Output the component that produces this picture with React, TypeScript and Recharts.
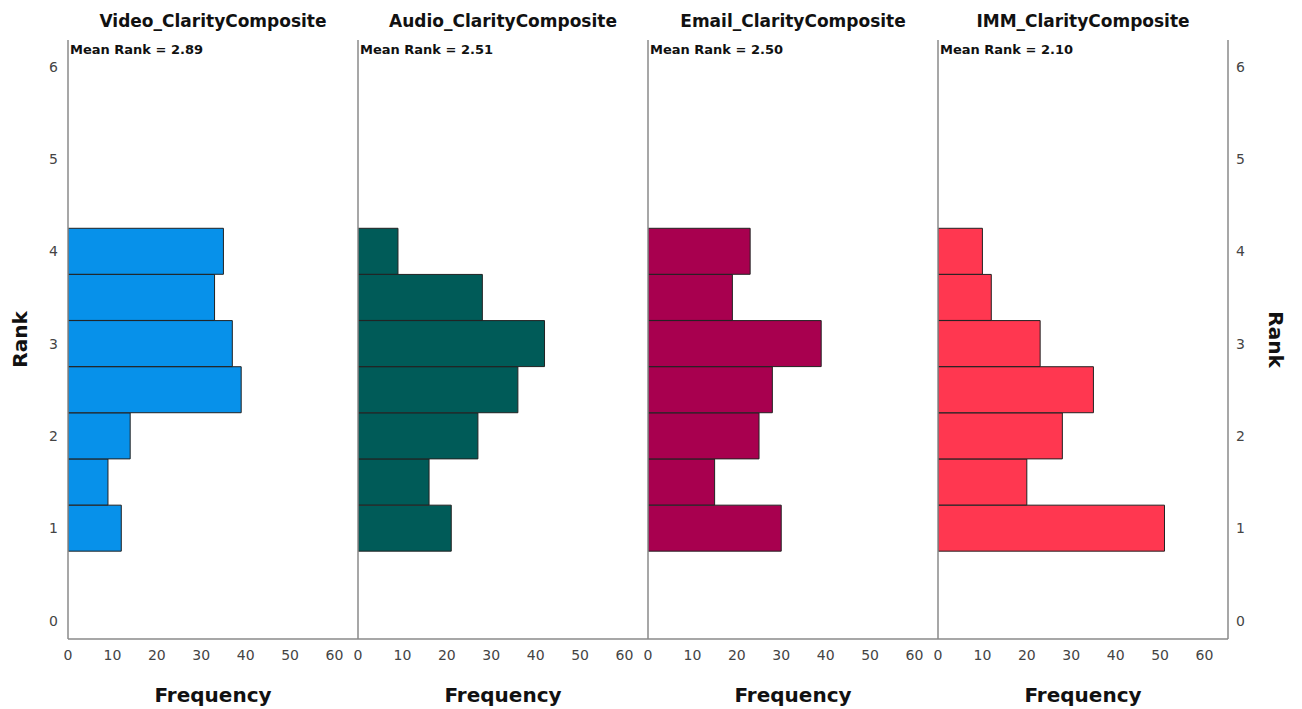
import React from "react";
import { BarChart, Bar, XAxis, YAxis, Label } from "recharts";

// rank bins (bin width 0.5) and frequency per composite
const ranks = [1, 1.5, 2, 2.5, 3, 3.5, 4];
const videoFreq = [12, 9, 14, 39, 37, 33, 35];
const audioFreq = [21, 16, 27, 36, 42, 28, 9];
const emailFreq = [30, 15, 25, 28, 39, 19, 23];
const immFreq = [51, 20, 28, 35, 23, 12, 10];

const titles = [
  "Video_ClarityComposite",
  "Audio_ClarityComposite",
  "Email_ClarityComposite",
  "IMM_ClarityComposite",
];
const meanRanks = ["2.89", "2.51", "2.50", "2.10"];
const colors = ["#0791ea", "#005b58", "#a8004f", "#ff3750"];
const freqTicks = [0, 10, 20, 30, 40, 50, 60];
const rankTicks = [0, 1, 2, 3, 4, 5, 6];

const FONT = "'DejaVu Sans', sans-serif";
const AXIS = "#8a8a8a";
const PANEL_W = 290;
const PLOT_LEFT = 68;
const PAD = 12;
const H = 709;

const tickStyle = { fontSize: 14, fill: "#444", fontFamily: FONT };

type PanelProps = {
  idx: number;
  values: number[];
};

const Panel = ({ idx, values }: PanelProps) => {
  const data = ranks.map((r, i) => ({ rank: r, freq: values[i] }));
  const first = idx === 0;
  const last = idx === 3;
  const leftW = first ? PLOT_LEFT : PAD;
  const rightW = last ? 73 : 0;
  const left = first ? 0 : PLOT_LEFT + PANEL_W * idx - PAD;
  return (
    <div style={{ position: "absolute", left, top: 0 }}>
      <BarChart
        width={leftW + PANEL_W + rightW}
        height={H}
        layout='vertical'
        data={data}
        barCategoryGap={0}
        margin={{ top: 40, right: 0, bottom: 0, left: 0 }}>
        <XAxis
          type='number'
          dataKey='freq'
          domain={[0, 65.3]}
          ticks={freqTicks}
          interval={0}
          allowDataOverflow
          height={70}
          tickLine={false}
          tickMargin={5}
          tick={tickStyle}
          stroke={AXIS}
          strokeWidth={1.5}>
          <Label
            value='Frequency'
            position='insideBottom'
            offset={7}
            style={{ fontSize: 20, fontWeight: 700, fill: "#111", fontFamily: FONT }}
          />
        </XAxis>
        <YAxis
          yAxisId='left'
          type='number'
          dataKey='rank'
          domain={[-0.2, 6.29]}
          ticks={rankTicks}
          interval={0}
          reversed
          allowDataOverflow
          width={leftW}
          tickLine={false}
          tickSize={8}
          tick={first ? tickStyle : false}
          stroke={AXIS}
          strokeWidth={1.5}>
          {first && (
            <Label
              value='Rank'
              angle={-90}
              position='insideLeft'
              offset={20}
              style={{ fontSize: 20, fontWeight: 700, fill: "#111", fontFamily: FONT, textAnchor: "middle" }}
            />
          )}
        </YAxis>
        {last && (
          <YAxis
            yAxisId='right'
            orientation='right'
            type='number'
            dataKey='rank'
            domain={[-0.2, 6.29]}
            ticks={rankTicks}
            interval={0}
            reversed
            allowDataOverflow
            width={rightW}
            tickLine={false}
            tickSize={6}
            tick={tickStyle}
            stroke={AXIS}
            strokeWidth={1.5}>
            <Label
              value='Rank'
              angle={90}
              position='insideRight'
              offset={25}
              style={{ fontSize: 20, fontWeight: 700, fill: "#111", fontFamily: FONT, textAnchor: "middle" }}
            />
          </YAxis>
        )}
        <Bar
          yAxisId='left'
          dataKey='freq'
          fill={colors[idx]}
          stroke='#222'
          strokeWidth={1}
          isAnimationActive={false}
        />
      </BarChart>
    </div>
  );
};

const App = () => {
  const series = [videoFreq, audioFreq, emailFreq, immFreq];
  return (
    <div style={{ position: "absolute", left: 0, top: 0, width: 1302, height: H, background: "#fff", fontFamily: FONT }}>
      {series.map((vals, i) => (
        <Panel key={titles[i]} idx={i} values={vals} />
      ))}
      {titles.map((t, i) => (
        <div
          key={t}
          style={{
            position: "absolute",
            left: PLOT_LEFT + PANEL_W * i,
            top: 13,
            width: PANEL_W,
            textAlign: "center",
            fontSize: 17,
            lineHeight: "17px",
            fontWeight: 700,
            color: "#111",
          }}>
          {t}
        </div>
      ))}
      {meanRanks.map((m, i) => (
        <div
          key={i}
          style={{
            position: "absolute",
            left: PLOT_LEFT + PANEL_W * i + 2,
            top: 43,
            fontSize: 13,
            lineHeight: "13px",
            fontWeight: 700,
            color: "#111",
            whiteSpace: "nowrap",
          }}>
          Mean Rank = {m}
        </div>
      ))}
    </div>
  );
};

export default App;
